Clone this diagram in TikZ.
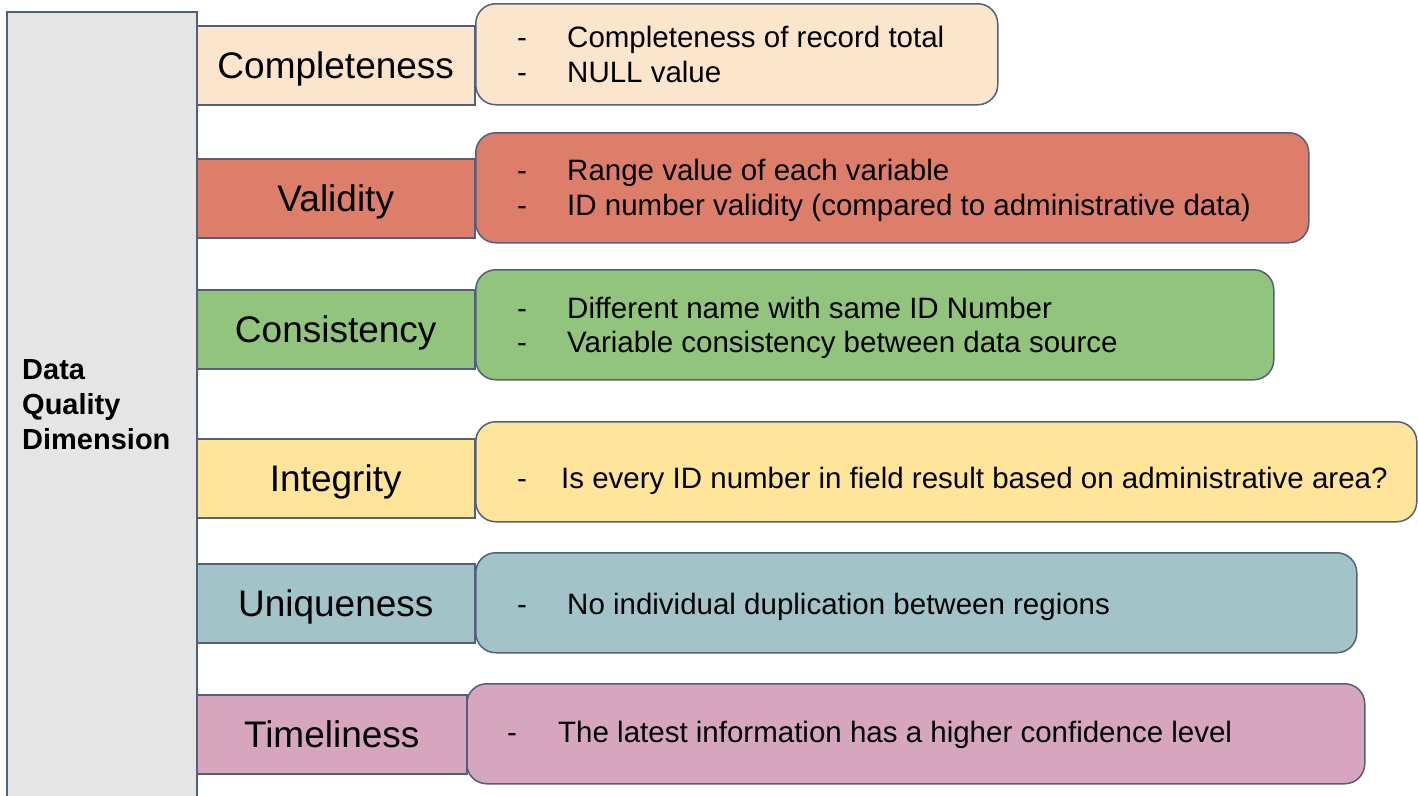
\documentclass[tikz,border=0pt]{standalone}
\usepackage{fontspec}
\setmainfont{Liberation Sans}
\definecolor{edgec}{HTML}{52607A}
\definecolor{barc}{HTML}{E5E5E5}
\definecolor{cA}{HTML}{FCE5CD}
\definecolor{cB}{HTML}{DD7E6B}
\definecolor{cC}{HTML}{93C47D}
\definecolor{cD}{HTML}{FFE599}
\definecolor{cE}{HTML}{A2C4C9}
\definecolor{cF}{HTML}{D5A6BD}
\tikzset{
  boxbase/.style={draw=edgec, line width=1.5pt, anchor=north west, inner sep=0pt},
  barbox/.style={boxbase, fill=barc},
  labbox/.style={boxbase, minimum width=278pt, minimum height=79pt,
    font=\fontsize{37}{44}\selectfont, text height=26.5pt, text depth=0pt},
  detbox/.style={boxbase, rounded corners=20pt},
  bartxt/.style={anchor=base west, inner sep=0pt, font=\fontsize{29}{34}\selectfont\bfseries},
  bul/.style={anchor=base, inner sep=0pt, font=\fontsize{29.5}{35}\selectfont},
  dtxt/.style={anchor=base west, inner sep=0pt, font=\fontsize{29.5}{35}\selectfont}
}
\begin{document}
\begin{tikzpicture}[x=1pt,y=-1pt]
\useasboundingbox (0,0) rectangle (1418,795);
\clip (0,0) rectangle (1418,795);
% left bar
\node[barbox, minimum width=190pt, minimum height=800pt] (bar) at (6,11) {};
\node[bartxt] (bt1) at (22,379) {Data};
\node[bartxt] (bt2) at (22,414) {Quality};
\node[bartxt] (bt3) at (22,449) {Dimension};
% detail boxes
\node[detbox, fill=cA, minimum width=522pt, minimum height=101pt] (d1) at (475,3) {};
\node[detbox, fill=cB, minimum width=833pt, minimum height=110pt] (d2) at (475,132) {};
\node[detbox, fill=cC, minimum width=798pt, minimum height=110pt] (d3) at (475,269) {};
\node[detbox, fill=cD, minimum width=941pt, minimum height=100pt] (d4) at (475,421) {};
\node[detbox, fill=cE, minimum width=881pt, minimum height=100pt] (d5) at (475,552) {};
\node[detbox, fill=cF, minimum width=898pt, minimum height=100pt] (d6) at (466,683) {};
% label boxes
\node[labbox, fill=cA] (l1) at (196,25) {Completeness};
\node[labbox, fill=cB] (l2) at (196,158) {Validity};
\node[labbox, fill=cC] (l3) at (196,289) {Consistency};
\node[labbox, fill=cD] (l4) at (196,438) {Integrity};
\node[labbox, fill=cE] (l5) at (196,563) {Uniqueness};
\node[labbox, fill=cF, minimum width=270pt] (l6) at (196,694) {Timeliness};
% detail texts
\node[bul] (b11) at (522,47) {-};
\node[dtxt] (t11) at (567,47) {Completeness of record total};
\node[bul] (b12) at (522,82) {-};
\node[dtxt] (t12) at (567,82) {NULL value};
\node[bul] (b21) at (522,180) {-};
\node[dtxt] (t21) at (567,180) {Range value of each variable};
\node[bul] (b22) at (522,215) {-};
\node[dtxt] (t22) at (567,215) {ID number validity (compared to administrative data)};
\node[bul] (b31) at (522,318) {-};
\node[dtxt] (t31) at (567,318) {Different name with same ID Number};
\node[bul] (b32) at (522,352) {-};
\node[dtxt] (t32) at (567,352) {Variable consistency between data source};
\node[bul] (b41) at (522,488) {-};
\node[dtxt] (t41) at (561,488) {Is every ID number in field result based on administrative area?};
\node[bul] (b51) at (522,614) {-};
\node[dtxt] (t51) at (567,614) {No individual duplication between regions};
\node[bul] (b61) at (512,742) {-};
\node[dtxt] (t61) at (558,742) {The latest information has a higher confidence level};
\end{tikzpicture}
\end{document}
